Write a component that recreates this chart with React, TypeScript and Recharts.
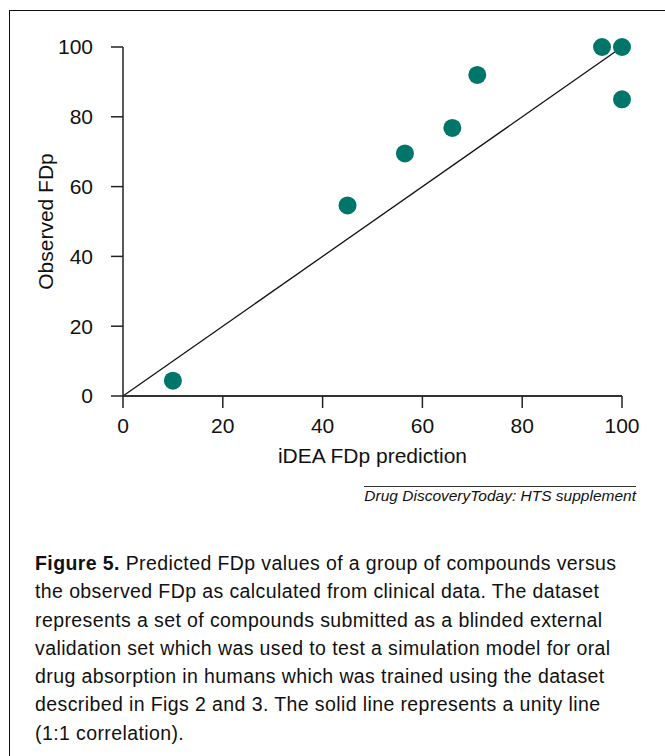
import React from 'react';
import { ScatterChart, Scatter, XAxis, YAxis, ReferenceLine } from 'recharts';

const predicted = [10, 45, 56.5, 66, 71, 96, 100, 100];
const observed = [4.4, 54.6, 69.5, 76.8, 92, 100, 100, 85];
const xTicks = [0, 20, 40, 60, 80, 100];
const yTicks = [0, 20, 40, 60, 80, 100];
const unityLine = [{ x: 0, y: 0 }, { x: 100, y: 100 }];
const xTitle = 'iDEA FDp prediction';
const yTitle = 'Observed FDp';
const sourceText = 'Drug DiscoveryToday: HTS supplement';
const captionLead = 'Figure 5.';
const captionLines = [
  ' Predicted FDp values of a group of compounds versus',
  'the observed FDp as calculated from clinical data. The dataset',
  'represents a set of compounds submitted as a blinded external',
  'validation set which was used to test a simulation model for oral',
  'drug absorption in humans which was trained using the dataset',
  'described in Figs 2 and 3. The solid line represents a unity line',
  '(1:1 correlation).',
];

const points = predicted.map((x, i) => ({ x, y: observed[i] }));

const FONT = '"Liberation Sans", Arial, Helvetica, sans-serif';
const TEAL = '#00766a';

const Dot = (props: any) => {
  const { cx, cy } = props;
  if (cx == null || cy == null) return null;
  return <circle cx={cx} cy={cy} r={9} fill={TEAL} />;
};

const YTitle = (props: any) => {
  const vb = props.viewBox || { x: 0, y: 47, width: 123, height: 349 };
  const cx = vb.x + vb.width / 2 - 16.5;
  const cy = vb.y + vb.height / 2;
  return (
    <text
      x={cx}
      y={cy}
      transform={`rotate(-90 ${cx} ${cy})`}
      textAnchor="middle"
      dominantBaseline="central"
      fontSize={21}
      fontFamily={FONT}
      fill="#111"
    >
      {yTitle}
    </text>
  );
};

const XTitle = (props: any) => {
  const vb = props.viewBox || { x: 123, y: 396, width: 499, height: 84 };
  const cx = vb.x + vb.width / 2;
  const y = vb.y + 67;
  return (
    <text x={cx} y={y} textAnchor="middle" fontSize={21} fontFamily={FONT} fill="#111">
      {xTitle}
    </text>
  );
};

export default function App() {
  const tickStyle = { fill: '#111', fontSize: 21, fontFamily: FONT };
  return (
    <div
      style={{
        position: 'absolute',
        left: 0,
        top: 0,
        width: 665,
        height: 756,
        overflow: 'hidden',
        background: '#fff',
      }}
    >
      <div
        style={{
          position: 'absolute',
          left: 9,
          top: 10,
          width: 720,
          height: 800,
          borderLeft: '1.5px solid #111',
          borderTop: '1.5px solid #111',
        }}
      />
      <div style={{ position: 'absolute', left: 0, top: 0 }}>
        <ScatterChart width={665} height={480} margin={{ top: 47, right: 43, bottom: 0, left: 0 }}>
          <XAxis
            type="number"
            dataKey="x"
            domain={[0, 100]}
            ticks={xTicks}
            height={84}
            tickSize={12}
            tickMargin={10}
            tick={tickStyle}
            stroke="#222"
            strokeWidth={1.5}
            axisLine={{ stroke: '#333', strokeWidth: 1.8 }}
            tickLine={{ stroke: '#222', strokeWidth: 1.5 }}
            label={{ content: XTitle }}
          />
          <YAxis
            type="number"
            dataKey="y"
            domain={[0, 100]}
            ticks={yTicks}
            width={123}
            tickSize={12}
            tickMargin={18}
            tick={tickStyle}
            stroke="#222"
            strokeWidth={1.5}
            axisLine={{ stroke: '#222', strokeWidth: 1.5 }}
            tickLine={{ stroke: '#222', strokeWidth: 1.5 }}
            label={{ content: YTitle }}
          />
          <ReferenceLine segment={unityLine} stroke="#111" strokeWidth={1.3} />
          <Scatter data={points} shape={Dot} isAnimationActive={false} />
        </ScatterChart>
      </div>
      <div
        style={{
          position: 'absolute',
          right: 29,
          top: 486,
          borderTop: '1px solid #333',
          paddingTop: 0,
          fontFamily: FONT,
          fontStyle: 'italic',
          fontSize: 15.5,
          lineHeight: '18px',
          color: '#111',
          whiteSpace: 'nowrap',
        }}
      >
        {sourceText}
      </div>
      <div
        style={{
          position: 'absolute',
          left: 35,
          top: 549,
          fontFamily: FONT,
          fontSize: 19.5,
          letterSpacing: '0.4px',
          lineHeight: '28.3px',
          color: '#111',
          whiteSpace: 'nowrap',
        }}
      >
        {captionLines.map((line, i) => (
          <div key={i}>
            {i === 0 ? <b>{captionLead}</b> : null}
            {line}
          </div>
        ))}
      </div>
    </div>
  );
}
